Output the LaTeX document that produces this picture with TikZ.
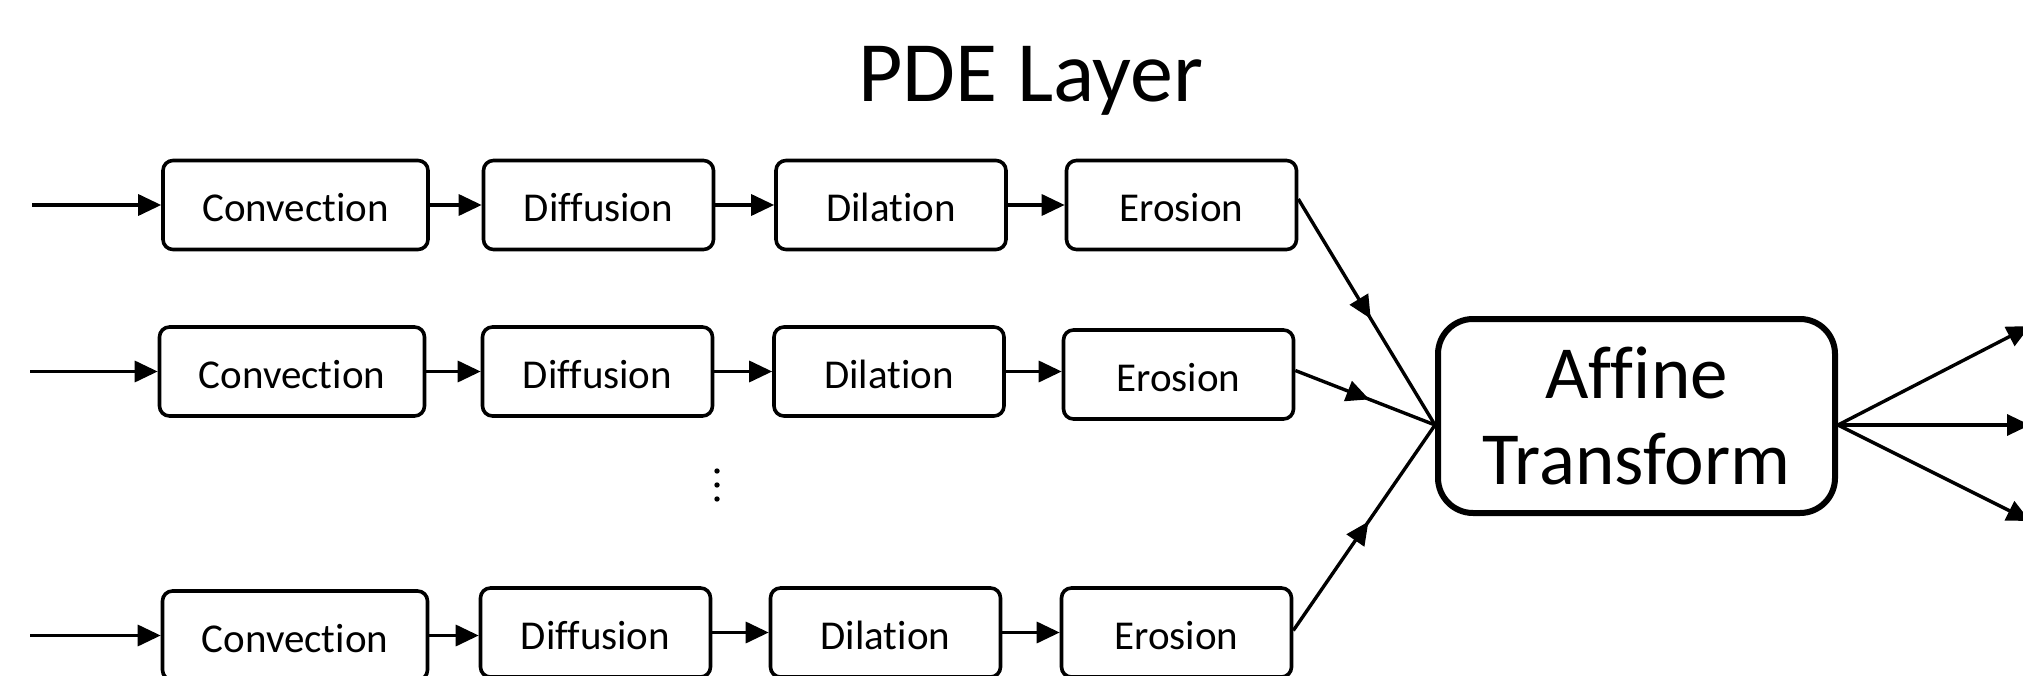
\documentclass[tikz,border=0pt]{standalone}
\usepackage{fontspec}
\setmainfont[Ligatures=NoCommon]{Carlito}
\usetikzlibrary{arrows.meta,decorations.markings,calc}
\begin{document}
\begin{tikzpicture}[x=1pt,y=-1pt,
  stage/.style={draw, line width=3.6pt, rounded corners=10pt, minimum height=89pt,
    inner sep=0pt, font=\fontsize{41}{49}\selectfont, text height=33pt, text depth=0pt},
  convbox/.style={stage, minimum width=265pt},
  opbox/.style={stage, minimum width=230pt},
  arr/.style={line width=3.4pt, -{Triangle[length=23pt,width=21pt]}},
  midarr/.style={line width=3.4pt, postaction={decorate},
    decoration={markings, mark=at position 0.53 with {\arrow{Triangle[length=23pt,width=21pt]}}}},
]
\useasboundingbox (0,0) rectangle (2023,676);
\clip (0,0) rectangle (2023,676);

\node[anchor=base, font=\fontsize{86}{92}\selectfont] (title) at (1031,102) {PDE Layer};

% row 1
\node[convbox] (c1) at (295.5,205) {Convection};
\node[opbox] (d1) at (598.5,205) {Diffusion};
\node[opbox] (l1) at (891,205) {Dilation};
\node[opbox] (e1) at (1181.5,205) {Erosion};
% row 2
\node[convbox] (c2) at (292,371.5) {Convection};
\node[opbox] (d2) at (597.5,371.5) {Diffusion};
\node[opbox] (l2) at (889,371.5) {Dilation};
\node[opbox] (e2) at (1178.5,374.5) {Erosion};
% row 3
\node[convbox] (c3) at (295,635.5) {Convection};
\node[opbox] (d3) at (595.5,632.5) {Diffusion};
\node[opbox] (l3) at (885.5,632.5) {Dilation};
\node[opbox] (e3) at (1176.5,632.5) {Erosion};

% affine
\node[draw, line width=6pt, rounded corners=35pt, minimum width=397pt, minimum height=194pt,
  align=center, font=\fontsize{75}{86}\selectfont] (aff) at (1636.5,416) {Affine\\Transform};

% inputs
\coordinate (i1) at (32,205);
\coordinate (i2) at (30,371.5);
\coordinate (i3) at (30,635.5);
\draw[arr] (i1) -- (c1.west);
\draw[arr] (i2) -- (c2.west);
\draw[arr] (i3) -- (c3.west);

\foreach \r in {1,2,3}{
  \draw[arr] (c\r.east) -- (d\r.west |- c\r.east);
  \draw[arr] (d\r.east) -- (l\r.west |- d\r.east);
  \draw[arr] (l\r.east) -- (e\r.west |- l\r.east);
}

% dots
\fill (717,471) circle (2.7pt);
\fill (717,485) circle (2.7pt);
\fill (717,499) circle (2.7pt);

% converge
\coordinate (m) at ([yshift=-9pt]aff.west);
\draw[midarr] ([yshift=6pt]e1.east) -- (m);
\draw[midarr] ([yshift=4pt]e2.east) -- (m);
\draw[midarr] ([yshift=2pt]e3.east) -- (m);

% outputs
\coordinate (n) at ([yshift=-9pt]aff.east);
\coordinate (o1) at (2030,326);
\coordinate (o2) at (2030,425);
\coordinate (o3) at (2030,521);
\draw[arr] (n) -- (o1);
\draw[arr] (n) -- (o2);
\draw[arr] (n) -- (o3);
\end{tikzpicture}
\end{document}
